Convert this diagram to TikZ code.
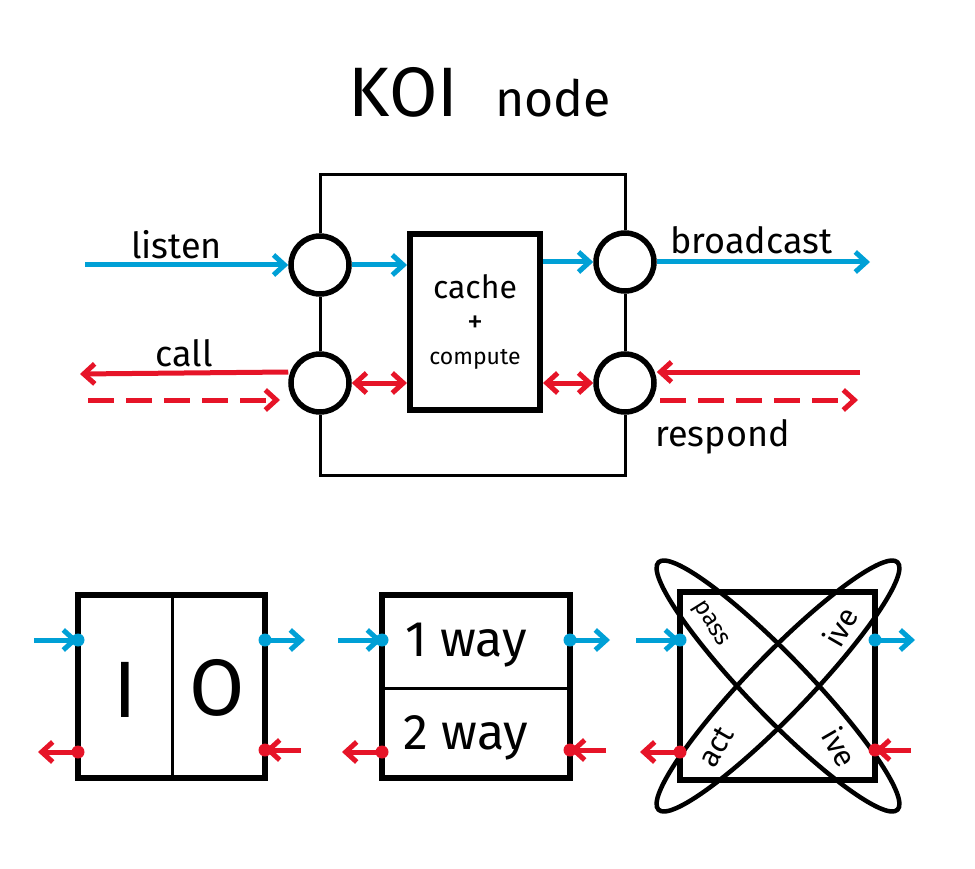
\documentclass[tikz,border=0pt]{standalone}
\usepackage{fontspec}
\setmainfont{Fira Sans}
\usetikzlibrary{arrows.meta}
\definecolor{bl}{RGB}{0,160,214}
\definecolor{rd}{RGB}{230,20,40}
\tikzset{
 frame/.style={line width=3pt},
 thick4/.style={line width=6pt},
 port/.style={circle,draw,line width=5.5pt,minimum size=58pt,inner sep=0pt},
 barr/.style={bl,line width=5pt,-{Straight Barb[length=11pt,width=20pt]}},
 rarr/.style={rd,line width=5pt,-{Straight Barb[length=11pt,width=20pt]}},
 rdarr/.style={rd,line width=5pt,{Straight Barb[length=11pt,width=20pt]}-{Straight Barb[length=11pt,width=20pt]}},
 lab/.style={font=\fontsize{36}{36}\selectfont},
 dot/.style={circle,inner sep=0pt,minimum size=13pt},
}
\begin{document}
\begin{tikzpicture}[x=1pt,y=-1pt]
\useasboundingbox (0,0) rectangle (975,869);
\node[font=\fontsize{70}{70}\selectfont] (title) at (480,92) {KOI\ \ {\fontsize{50}{50}\selectfont node}};
% frame
\node[port] (c1) at (320,265) {};
\node[port] (c2) at (320,383) {};
\node[port] (c3) at (625,262) {};
\node[port] (c4) at (625,383) {};
\coordinate (tl) at (320,175); \coordinate (tr) at (625,175);
\coordinate (bl0) at (320,475); \coordinate (br) at (625,475);
\draw[frame] (c1.north) -- (tl) -- (tr) -- (c3.north);
\draw[frame] (c1.south) -- (c2.north);
\draw[frame] (c3.south) -- (c4.north);
\draw[frame] (c2.south) -- (bl0) -- (br) -- (c4.south);
\node[draw,thick4,minimum width=130pt,minimum height=175pt,align=center,font=\fontsize{32}{34}\selectfont] (cc) at (475,322) {cache\\+\\[-2pt]{\fontsize{23}{24}\selectfont compute}};
% blue
\coordinate (lsA) at (85,265); \coordinate (bcB) at (870,262);
\draw[barr] (lsA) -- (c1.west) node[lab,midway,above=0pt,black,xshift=-10pt] (listen) {listen};
\draw[barr] (c1.east) -- (cc.west |- c1.east);
\draw[barr] (cc.east |- c3.west) -- (c3.west);
\draw[barr] (c3.east) -- (bcB) node[lab,midway,above=2pt,black,xshift=-12pt] (bc) {broadcast};
% red
\coordinate (cA) at (80,374); \coordinate (cB) at (88,400); \coordinate (cC) at (280,400);
\draw[rarr] (c2.west |- 0,372) -- (cA) node[lab,midway,above=0pt,black] (call) {call};
\draw[rarr,dashed,dash pattern=on 26pt off 12pt] (cB) -- (cC);
\draw[rdarr] (c2.east) -- (cc.west |- c2.east);
\draw[rdarr] (cc.east |- c4.west) -- (c4.west);
\coordinate (rA) at (860,372); \coordinate (rB) at (660,400); \coordinate (rC) at (858,400);
\draw[rarr] (rA) -- (c4.east |- rA);
\draw[rarr,dashed,dash pattern=on 26pt off 12pt] (rB) -- (rC);
\node[lab,anchor=west] (resp) at (652,437) {respond};
% bottom box 1
\node[draw,thick4,minimum width=187pt,minimum height=183pt] (b1) at (171.5,686.5) {};
\draw[frame] (172,595) -- (172,778);
\node[font=\fontsize{80}{80}\selectfont] (I) at (125,690) {I};
\node[font=\fontsize{80}{80}\selectfont] (O) at (217,688) {O};
% bottom box 2
\node[draw,thick4,minimum width=188pt,minimum height=183pt] (b2) at (476,686.5) {};
\draw[frame] (382,688) -- (570,688);
\node[font=\fontsize{50}{50}\selectfont] (w1) at (466,645) {1 way};
\node[font=\fontsize{50}{50}\selectfont] (w2) at (466,738) {2 way};
% bottom box 3
\node[draw,thick4,minimum width=195pt,minimum height=188pt] (b3) at (777.5,686) {};
\draw[line width=4.5pt,rotate around={46:(778,686)}] (778,686) ellipse[x radius=172,y radius=30];
\draw[line width=4.5pt,rotate around={-46:(778,686)}] (778,686) ellipse[x radius=172,y radius=30];
\node[font=\fontsize{24}{24}\selectfont,rotate=-58] (pass) at (710,624) {pass};
\node[font=\fontsize{30}{30}\selectfont,rotate=60] (ive1) at (840,627) {ive};
\node[font=\fontsize{30}{30}\selectfont,rotate=60] (act) at (716,747) {act};
\node[font=\fontsize{30}{30}\selectfont,rotate=-60] (ive2) at (840,747) {ive};
% small port arrows
\foreach \b/\xl/\xr in {b1/78/265,b2/382/570,b3/680/875}{
  \coordinate (\b il) at (\xl,640); \coordinate (\b ol) at (\xr,640);
  \coordinate (\b rl) at (\xl,752); \coordinate (\b rr) at (\xr,750);
  \node[dot,fill=bl] at (\b il) {}; \node[dot,fill=bl] at (\b ol) {};
  \node[dot,fill=rd] at (\b rl) {}; \node[dot,fill=rd] at (\b rr) {};
  \draw[barr] ([xshift=-44pt]\b il) -- (\b il);
  \draw[barr] (\b ol) -- ([xshift=40pt]\b ol);
  \draw[rarr] (\b rl) -- ([xshift=-40pt]\b rl);
  \draw[rarr] ([xshift=36pt]\b rr) -- (\b rr);
}
\end{tikzpicture}
\end{document}
